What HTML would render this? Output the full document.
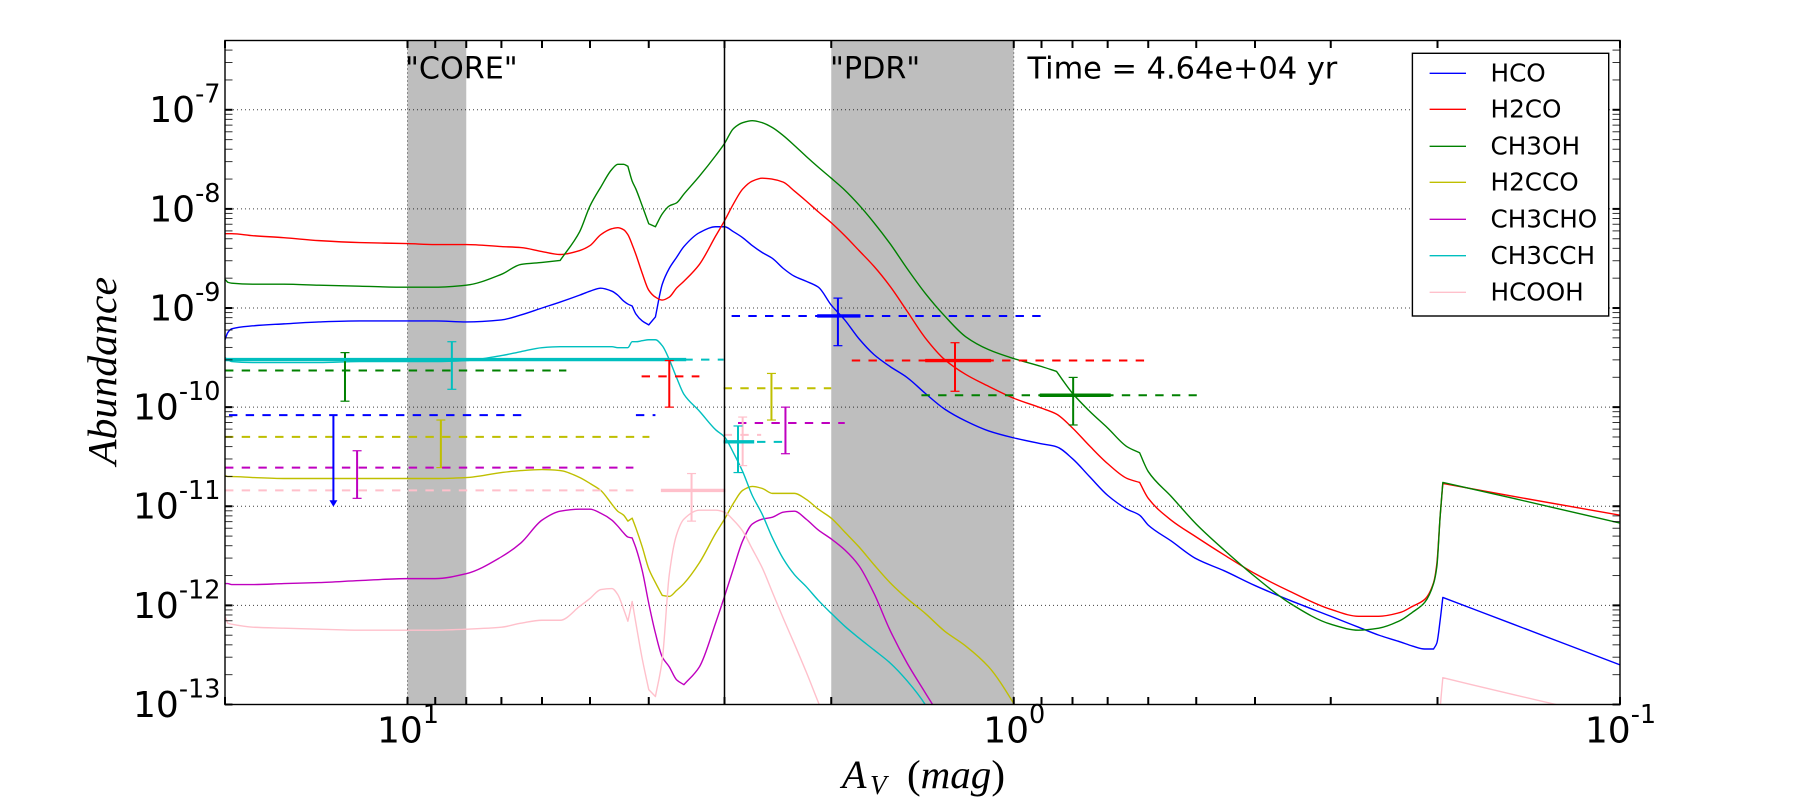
<!DOCTYPE html>
<html lang="en">
<head>
<meta charset="utf-8">
<title>Abundance vs visual extinction</title>
<style>
html,body{margin:0;padding:0;background:#fff;width:1800px;height:800px;overflow:hidden}
svg{display:block}
text{font-family:"DejaVu Sans","Liberation Sans",sans-serif;fill:#000}
.math{font-family:"Liberation Serif",serif;font-style:italic}
</style>
</head>
<body>
<svg id="chart" xmlns="http://www.w3.org/2000/svg" width="1800" height="800" viewBox="0 0 1800 800">
  <defs>
    <clipPath id="plot-clip"><rect x="225" y="40.5" width="1395" height="664"/></clipPath>
  </defs>
  <rect x="0" y="0" width="1800" height="800" fill="#fff"/>
  <g id="layer-shade"></g>
  <g id="layer-grid"></g>
  <g id="layer-curves" clip-path="url(#plot-clip)"></g>
  <g id="layer-obs"></g>
  <g id="layer-ticks"></g>
  <rect x="225" y="40.5" width="1395" height="664" fill="none" stroke="#000" stroke-width="1.4"/>
  <g id="layer-labels"></g>

  <text x="405" y="78.3" font-size="30.2">"CORE"</text>
  <text x="830" y="78.3" font-size="30.2">"PDR"</text>
  <text x="1027.5" y="78.3" font-size="30.4">Time = 4.64e+04 yr</text>

  <text class="math" font-size="41" text-anchor="middle" transform="translate(116,371) rotate(-90)" textLength="188" lengthAdjust="spacingAndGlyphs">Abundance</text>
  <text class="math" x="842" y="788" font-size="40">A</text>
  <text class="math" x="870" y="794" font-size="27">V</text>
  <text x="907" y="788" font-size="40" class="math" textLength="98" lengthAdjust="spacingAndGlyphs"><tspan font-style="normal">(</tspan>mag<tspan font-style="normal">)</tspan></text>

  <g id="legend"></g>
</svg>
<script>
// ---- axis limits ----
const xLimits = [20, 0.1];
const yLimits = [5e-7, 1e-13];

// ---- tick data ----
const xTickValues = [20, 10, 9, 8, 7, 6, 5, 4, 3, 2, 1, 0.9, 0.8, 0.7, 0.6, 0.5, 0.4, 0.3, 0.2, 0.1];
const xLabelValues = [10, 1, 0.1];
const xLabelExponents = ['1', '0', '-1'];
const yMajorExponents = [-7, -8, -9, -10, -11, -12, -13];
const yMinorMantissas = [2, 3, 4, 5, 6, 7, 8, 9];
const yMinorDecades = [-13, -12, -11, -10, -9, -8, -7];
const gridXValues = [10, 1];
const coreRange = [10, 8];
const pdrRange = [2, 1];
const dividerAv = 3;

// ---- model curves: shared A_V grid (mag) and log10(abundance) per species ----
const avGrid = [20,19.8,19.5,18,16,14,12,10,9,8,7,6.5,6,5.6,5.2,5,4.8,4.6,4.5,4.4,4.33,4.26,4.2,4.1,4,3.9,3.8,3.7,3.6,3.5,3.3,3.1,3,2.9,2.8,2.7,2.6,2.5,2.4,2.3,2.2,2.1,2,1.9,1.8,1.7,1.6,1.5,1.4,1.3,1.2,1.1,1,0.9,0.85,0.8,0.75,0.7,0.65,0.62,0.6,0.55,0.5,0.45,0.4,0.35,0.3,0.27,0.25,0.23,0.22,0.21,0.203,0.2005,0.198,0.196,0.15,0.1];

const logHCO = [-9.32,-9.25,-9.21,-9.18,-9.16,-9.14,-9.13,-9.13,-9.13,-9.14,-9.12,-9.07,-9.00,-8.94,-8.87,-8.83,-8.80,-8.83,-8.87,-8.93,-8.96,-8.98,-9.06,-9.13,-9.17,-9.09,-8.76,-8.60,-8.49,-8.38,-8.24,-8.18,-8.18,-8.23,-8.29,-8.37,-8.44,-8.50,-8.60,-8.68,-8.73,-8.79,-8.97,-9.12,-9.31,-9.47,-9.59,-9.70,-9.86,-10.02,-10.14,-10.24,-10.31,-10.37,-10.40,-10.52,-10.70,-10.89,-11.03,-11.09,-11.19,-11.35,-11.53,-11.65,-11.80,-11.95,-12.11,-12.22,-12.30,-12.37,-12.41,-12.44,-12.44,-12.38,-12.15,-11.92,-12.19,-12.60];

const logH2CO = [-8.25,-8.25,-8.25,-8.27,-8.29,-8.32,-8.34,-8.35,-8.36,-8.36,-8.38,-8.39,-8.43,-8.46,-8.42,-8.37,-8.26,-8.20,-8.19,-8.21,-8.26,-8.36,-8.46,-8.65,-8.82,-8.89,-8.92,-8.89,-8.80,-8.73,-8.56,-8.27,-8.12,-7.95,-7.80,-7.72,-7.69,-7.70,-7.73,-7.82,-7.92,-8.03,-8.14,-8.27,-8.42,-8.58,-8.78,-9.03,-9.30,-9.52,-9.67,-9.79,-9.91,-10.01,-10.07,-10.21,-10.39,-10.57,-10.72,-10.76,-10.92,-11.14,-11.31,-11.49,-11.68,-11.86,-12.04,-12.11,-12.11,-12.07,-12.01,-11.94,-11.77,-11.58,-11.10,-10.77,-10.90,-11.09];

const logCH3OH = [-8.71,-8.74,-8.75,-8.76,-8.76,-8.77,-8.78,-8.79,-8.79,-8.77,-8.66,-8.56,-8.54,-8.52,-8.23,-7.97,-7.78,-7.60,-7.55,-7.55,-7.57,-7.72,-7.80,-7.97,-8.15,-8.18,-8.05,-7.97,-7.94,-7.85,-7.67,-7.46,-7.34,-7.19,-7.13,-7.11,-7.13,-7.18,-7.26,-7.36,-7.47,-7.58,-7.69,-7.81,-7.96,-8.14,-8.35,-8.60,-8.85,-9.08,-9.29,-9.42,-9.51,-9.59,-9.64,-9.86,-10.04,-10.21,-10.40,-10.46,-10.65,-10.90,-11.18,-11.44,-11.71,-11.98,-12.19,-12.25,-12.23,-12.15,-12.07,-11.97,-11.78,-11.61,-11.10,-10.76,-10.92,-11.17];

const logH2CCO = [-10.69,-10.70,-10.70,-10.71,-10.72,-10.72,-10.72,-10.72,-10.72,-10.71,-10.66,-10.64,-10.63,-10.64,-10.71,-10.77,-10.84,-10.98,-11.05,-11.09,-11.15,-11.12,-11.22,-11.41,-11.63,-11.77,-11.90,-11.91,-11.85,-11.78,-11.57,-11.27,-11.13,-10.97,-10.84,-10.80,-10.82,-10.87,-10.87,-10.87,-10.93,-11.03,-11.12,-11.26,-11.41,-11.59,-11.77,-11.93,-12.08,-12.26,-12.41,-12.62,-12.99,-13.5];

const logCH3CHO = [-11.78,-11.78,-11.79,-11.79,-11.78,-11.77,-11.75,-11.73,-11.73,-11.68,-11.51,-11.37,-11.14,-11.05,-11.03,-11.03,-11.07,-11.14,-11.20,-11.27,-11.31,-11.32,-11.42,-11.65,-11.98,-12.28,-12.52,-12.62,-12.75,-12.80,-12.62,-12.17,-11.91,-11.63,-11.35,-11.18,-11.13,-11.11,-11.06,-11.05,-11.13,-11.24,-11.33,-11.44,-11.60,-11.88,-12.25,-12.58,-12.88,-13.2,-13.6];

const logCH3CCH = [-9.50,-9.52,-9.54,-9.55,-9.55,-9.55,-9.54,-9.54,-9.54,-9.53,-9.48,-9.44,-9.40,-9.39,-9.39,-9.39,-9.39,-9.39,-9.40,-9.40,-9.40,-9.34,-9.34,-9.33,-9.32,-9.32,-9.38,-9.52,-9.70,-9.87,-10.04,-10.23,-10.30,-10.46,-10.65,-10.89,-11.08,-11.32,-11.53,-11.69,-11.81,-11.95,-12.08,-12.21,-12.33,-12.45,-12.58,-12.76,-13.0,-13.4];

const logHCOOH = [-12.11,-12.18,-12.19,-12.22,-12.23,-12.24,-12.25,-12.25,-12.25,-12.24,-12.22,-12.18,-12.15,-12.15,-12.01,-11.93,-11.84,-11.83,-11.89,-12.04,-12.16,-11.96,-12.18,-12.54,-12.85,-12.92,-12.55,-11.69,-11.29,-11.13,-11.04,-11.04,-11.06,-11.14,-11.25,-11.43,-11.62,-11.87,-12.13,-12.39,-12.67,-12.98,-13.3,-13.6,-13.8,-13.8,-13.8,-13.8,-13.8,-13.8,-13.8,-13.8,-13.8,-13.8,-13.8,-13.8,-13.8,-13.8,-13.8,-13.8,-13.8,-13.8,-13.8,-13.8,-13.8,-13.8,-13.8,-13.8,-13.8,-13.8,-13.8,-13.8,-13.8,-13.8,-13.05,-12.73,-12.90,-13.15];

const speciesNames = ['HCO', 'H2CO', 'CH3OH', 'H2CCO', 'CH3CHO', 'CH3CCH', 'HCOOH'];
const speciesSeries = [logHCO, logH2CO, logCH3OH, logH2CCO, logCH3CHO, logCH3CCH, logHCOOH];

// ---- observations: species index, log10(abundance), dashed extent, thick extent, error bar ----
const obsSpecies   = [2, 5, 0, 0, 3, 4, 6, 1, 3, 4, 6, 5, 0, 1, 2];
const obsLog       = [-9.63, -9.52, -10.08, -10.08, -10.30, -10.61, -10.84, -9.69, -9.81, -10.16, -10.28, -10.35, -9.08, -9.53, -9.88];
const obsDashFrom  = [20, 19.37, 19.7, 4.2, 20, 20, 20, 4.11, 3.01, 2.85, 3.01, 3.01, 2.92, 1.85, 1.42];
const obsDashTo    = [5.47, 3.01, 6.47, 3.9, 3.99, 4.24, 4.24, 3.30, 2, 1.9, 2.61, 2.35, 0.903, 0.609, 0.499];
const obsThickFrom = [null, 20, null, null, null, null, 3.82, null, null, null, null, 3.01, 2.11, 1.40, 0.906];
const obsThickTo   = [null, 3.47, null, null, null, null, 2.99, null, null, null, null, 2.68, 1.79, 1.09, 0.692];
const obsErrAv     = [12.68, 8.45, null, null, 8.81, 12.11, 3.40, 3.70, 2.51, 2.38, 2.80, 2.85, 1.95, 1.25, 0.798];
const obsErrHi     = [-9.45, -9.34, null, null, -10.13, -10.44, -10.67, -9.53, -9.66, -10.0, -10.10, -10.19, -8.90, -9.35, -9.70];
const obsErrLo     = [-9.94, -9.82, null, null, -10.61, -10.92, -11.15, -10.0, -10.13, -10.47, -10.59, -10.66, -9.38, -9.84, -10.18];

// upper limit arrow for HCO in the core
const limitSpecies = 0;
const limitAv = 13.25;
const limitFrom = -10.08;
const limitTo = -11;

// ---- styles ----
const speciesColors = ['#0000ff', '#ff0000', '#008000', '#bfbf00', '#bf00bf', '#00bfbf', '#ffc0cb'];
const legendRowY = [73.3, 109.3, 146.3, 182.3, 219.3, 255.7, 292.3];

// ---- axis functions ----
const plotLeft = 225, plotRight = 1620, plotTop = 40.5, plotBottom = 704.5;
const lxA = Math.log10(xLimits[0]), lxB = Math.log10(xLimits[1]);
const lyA = Math.log10(yLimits[0]), lyB = Math.log10(yLimits[1]);
function xPos(av) { return plotLeft + (lxA - Math.log10(av)) / (lxA - lxB) * (plotRight - plotLeft); }
function yPos(logAb) { return plotTop + (lyA - logAb) / (lyA - lyB) * (plotBottom - plotTop); }

// monotone cubic path; sharp corners are kept where the slope changes abruptly
function monotonePath(xs, ys) {
  const n = xs.length;
  const dx = [], s = [], mL = [], mR = [];
  for (let i = 0; i < n - 1; i++) {
    dx[i] = xs[i + 1] - xs[i];
    s[i] = (ys[i + 1] - ys[i]) / dx[i];
  }
  mR[0] = s[0];
  mL[n - 1] = s[n - 2];
  for (let i = 1; i < n - 1; i++) {
    const a = s[i - 1], b = s[i];
    const big = Math.max(Math.abs(a), Math.abs(b)), small = Math.min(Math.abs(a), Math.abs(b));
    if ((a * b <= 0 && Math.abs(a - b) > 1.5) || (a * b > 0 && big > 1 && big / small > 4)) {
      mL[i] = a;
      mR[i] = b;
    } else if (a * b <= 0) {
      mL[i] = 0;
      mR[i] = 0;
    } else {
      const w1 = 2 * dx[i] + dx[i - 1], w2 = dx[i] + 2 * dx[i - 1];
      mL[i] = mR[i] = (w1 + w2) / (w1 / a + w2 / b);
    }
  }
  let d = 'M' + xs[0].toFixed(2) + ',' + ys[0].toFixed(2);
  for (let i = 0; i < n - 1; i++) {
    const h = dx[i] / 3;
    d += 'C' + (xs[i] + h).toFixed(2) + ',' + (ys[i] + mR[i] * h).toFixed(2) + ' ' +
         (xs[i + 1] - h).toFixed(2) + ',' + (ys[i + 1] - mL[i + 1] * h).toFixed(2) + ' ' +
         xs[i + 1].toFixed(2) + ',' + ys[i + 1].toFixed(2);
  }
  return d;
}

const NS = 'http://www.w3.org/2000/svg';
function make(tag, attrs, parent) {
  const node = document.createElementNS(NS, tag);
  for (const k in attrs) node.setAttribute(k, attrs[k]);
  parent.appendChild(node);
  return node;
}
const layerShade = document.getElementById('layer-shade');
const layerGrid = document.getElementById('layer-grid');
const layerCurves = document.getElementById('layer-curves');
const layerObs = document.getElementById('layer-obs');
const layerTicks = document.getElementById('layer-ticks');
const layerLabels = document.getElementById('layer-labels');
const legend = document.getElementById('legend');

// shaded regions
[['core-region', coreRange], ['pdr-region', pdrRange]].forEach(function (r) {
  const x0 = xPos(r[1][0]), x1 = xPos(r[1][1]);
  const el = make('rect', {x: x0, y: plotTop, width: x1 - x0, height: plotBottom - plotTop, fill: '#bebebe'}, layerShade);
  
  
});

// grid
yMajorExponents.forEach(function (e) {
  const el = make('line', {x1: plotLeft, x2: plotRight, y1: yPos(e), y2: yPos(e), stroke: '#000', 'stroke-width': 1, 'stroke-dasharray': '1 3', opacity: 0.75}, layerGrid);
  
  
});
gridXValues.forEach(function (v) {
  const el = make('line', {x1: xPos(v), x2: xPos(v), y1: plotTop, y2: plotBottom, stroke: '#000', 'stroke-width': 1, 'stroke-dasharray': '1 3', opacity: 0.75}, layerGrid);
  
  
});

// curves
speciesSeries.forEach(function (series, i) {
  const xs = series.map(function (l, j) { return xPos(avGrid[j]); });
  const ys = series.map(function (l) { return yPos(l); });
  const el = make('path', {d: monotonePath(xs, ys), fill: 'none', stroke: speciesColors[i], 'stroke-width': 1.4, 'stroke-linejoin': 'round'}, layerCurves);
  
  
});

// observations
obsLog.forEach(function (l, i) {
  const color = speciesColors[obsSpecies[i]];
  const label = speciesNames[obsSpecies[i]].toLowerCase();
  const dash = make('line', {x1: xPos(obsDashFrom[i]), x2: xPos(obsDashTo[i]), y1: yPos(l), y2: yPos(l), stroke: color, 'stroke-width': 2, 'stroke-dasharray': '8.4 8.3'}, layerObs);
  
  
  if (obsThickFrom[i] !== null) {
    const thick = make('line', {x1: xPos(obsThickFrom[i]), x2: xPos(obsThickTo[i]), y1: yPos(l), y2: yPos(l), stroke: color, 'stroke-width': 3.4}, layerObs);
    
    
  }
  if (obsErrAv[i] !== null) {
    const x = xPos(obsErrAv[i]), yHi = yPos(obsErrHi[i]), yLo = yPos(obsErrLo[i]);
    const bar = make('line', {x1: x, x2: x, y1: yHi, y2: yLo, stroke: color, 'stroke-width': 2}, layerObs);
    
    
    const capTop = make('line', {x1: x - 4.5, x2: x + 4.5, y1: yHi, y2: yHi, stroke: color, 'stroke-width': 1.2}, layerObs);
    
    
    const capBottom = make('line', {x1: x - 4.5, x2: x + 4.5, y1: yLo, y2: yLo, stroke: color, 'stroke-width': 1.2}, layerObs);
    
    
  }
});

// upper limit arrow
(function () {
  const x = xPos(limitAv), y0 = yPos(limitFrom), y1 = yPos(limitTo);
  const color = speciesColors[limitSpecies];
  const shaft = make('line', {x1: x, x2: x, y1: y0, y2: y1 - 4, stroke: color, 'stroke-width': 2}, layerObs);
  
  
  const head = make('polygon', {points: (x - 4) + ',' + (y1 - 6) + ' ' + (x + 4) + ',' + (y1 - 6) + ' ' + x + ',' + (y1 + 0.5), fill: color}, layerObs);
  
  
})();

// divider
(function () {
  const el = make('line', {x1: xPos(dividerAv), x2: xPos(dividerAv), y1: plotTop, y2: plotBottom, stroke: '#000', 'stroke-width': 1.5}, layerObs);
  
  
})();

// x ticks
xTickValues.forEach(function (v) {
  const x = xPos(v);
  const bottom = make('line', {x1: x, x2: x, y1: plotBottom, y2: plotBottom - 7.5, stroke: '#000', 'stroke-width': 2}, layerTicks);
  
  
  const top = make('line', {x1: x, x2: x, y1: plotTop, y2: plotTop + 7.5, stroke: '#000', 'stroke-width': 2}, layerTicks);
  
  
});

// y ticks
yMajorExponents.forEach(function (e) {
  const y = yPos(e);
  const left = make('line', {x1: plotLeft, x2: plotLeft + 7.5, y1: y, y2: y, stroke: '#000', 'stroke-width': 2}, layerTicks);
  
  
  const right = make('line', {x1: plotRight, x2: plotRight - 7.5, y1: y, y2: y, stroke: '#000', 'stroke-width': 2}, layerTicks);
  
  
});
yMinorDecades.forEach(function (d) {
  yMinorMantissas.forEach(function (m) {
    const l = d + Math.log10(m);
    if (l > lyA + 1e-6) return;
    const y = yPos(l);
    const left = make('line', {x1: plotLeft, x2: plotLeft + 7.5, y1: y, y2: y, stroke: '#000', 'stroke-width': 1, opacity: 0.8}, layerTicks);
    
    
    const right = make('line', {x1: plotRight, x2: plotRight - 7.5, y1: y, y2: y, stroke: '#000', 'stroke-width': 1, opacity: 0.8}, layerTicks);
    
    
  });
});

// tick labels
function powerLabel(x, y, anchor, exponent, parent) {
  const t = make('text', {x: x, y: y, 'font-size': 36, 'text-anchor': anchor}, parent);
  t.appendChild(document.createTextNode('10'));
  const s = make('tspan', {dy: -19.5, 'font-size': 25.5}, t);
  s.textContent = exponent;
  return t;
}
yMajorExponents.forEach(function (e) {
  const t = powerLabel(220.5, yPos(e) + 12.4, 'end', String(e), layerLabels);
  
  
});
xLabelValues.forEach(function (v, i) {
  const t = powerLabel(xPos(v) + 0.5, 742.5, 'middle', xLabelExponents[i], layerLabels);
  
  
});

// legend
(function () {
  const box = make('rect', {x: 1412.4, y: 53.3, width: 196.3, height: 262.7, fill: '#fff', stroke: '#000', 'stroke-width': 1.4}, legend);
  
  
  speciesNames.forEach(function (name, i) {
    const line = make('line', {x1: 1429.6, x2: 1466, y1: legendRowY[i], y2: legendRowY[i], stroke: speciesColors[i], 'stroke-width': 1.4}, legend);
    
    
    const text = make('text', {x: 1490.5, y: legendRowY[i] + 8.4, 'font-size': 24.7}, legend);
    text.textContent = name;
    
    
  });
})();
</script>
</body>
</html>
